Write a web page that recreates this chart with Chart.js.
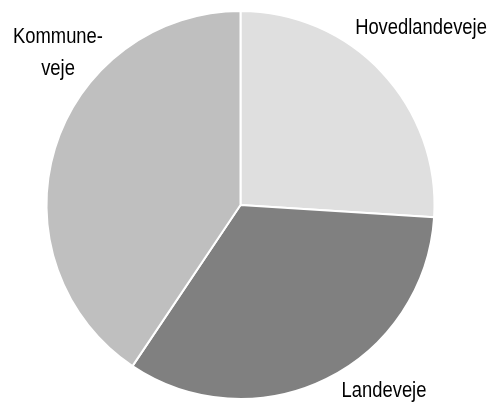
<!DOCTYPE html>
<html>
<head>
<meta charset="utf-8">
<script src="https://cdn.jsdelivr.net/npm/chart.js@4"></script>
<style>
  html, body { margin: 0; padding: 0; background: #fff; }
  #wrap { width: 491px; height: 403px; position: relative; }
</style>
</head>
<body>
<div id="wrap"><canvas id="vej-chart"></canvas></div>
<script>
// vejtyper (andel af vejnettet, %)
const labels = ["Hovedlandeveje", "Landeveje", "Kommuneveje"];
const shares = [26.0, 33.4, 40.6];
const colors = ["#dfdfdf", "#808080", "#bfbfbf"];

// tekst ved siden af lagkagen
const labelText = [["Hovedlandeveje"], ["Landeveje"], ["Kommune-", "veje"]];
const labelPos = [
  { x: 421, y: 34 },
  { x: 384, y: 397 },
  { x: 58, y: 43 },
];

// smal skrift: ingen Arial Narrow, saa vi trykker Liberation Sans sammen
const outsideLabels = {
  id: "outsideLabels",
  afterDraw(chart) {
    const ctx = chart.ctx;
    const squeeze = 0.835;
    ctx.save();
    ctx.fillStyle = "#000";
    ctx.font = '22px "Liberation Sans", Arial, sans-serif';
    ctx.textAlign = "center";
    ctx.textBaseline = "alphabetic";
    labelText.forEach((lines, i) => {
      lines.forEach((line, j) => {
        ctx.save();
        ctx.translate(labelPos[i].x, labelPos[i].y + j * 32);
        ctx.scale(squeeze, 1);
        ctx.fillText(line, 0, 0);
        ctx.restore();
      });
    });
    ctx.restore();
  },
};

const data = {
  labels: labels,
  datasets: [
    {
      data: shares,
      backgroundColor: colors,
      borderColor: "#ffffff",
      borderWidth: 2,
    },
  ],
};

const config = {
  type: "pie",
  data: data,
  options: {
    responsive: true,
    maintainAspectRatio: false,
    animation: false,
    layout: {
      padding: { top: 10, bottom: 3, left: 45.5, right: 55.5 },
    },
    plugins: {
      legend: { display: false },
      tooltip: { enabled: false },
    },
  },
  plugins: [outsideLabels],
};

const myChart = new Chart(document.getElementById("vej-chart"), config);
</script>
</body>
</html>
